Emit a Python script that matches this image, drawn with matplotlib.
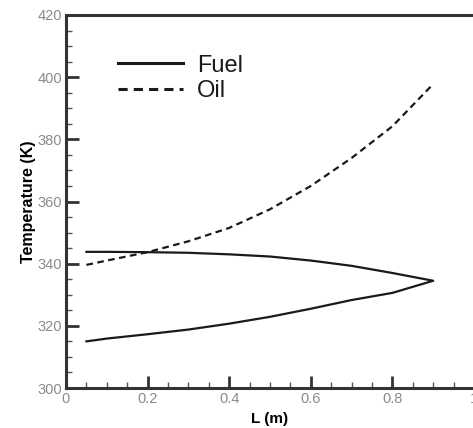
import matplotlib.pyplot as plt
from matplotlib.ticker import MultipleLocator
import numpy as np

plt.rcParams['font.family'] = ['Liberation Sans', 'DejaVu Sans']

# fuel runs out along the upper branch and back along the lower one
fuel_L = [0.05, 0.1, 0.2, 0.3, 0.4, 0.5, 0.6, 0.7, 0.8, 0.9,
          0.8, 0.7, 0.6, 0.5, 0.4, 0.3, 0.2, 0.1, 0.05]
fuel_T = [343.8, 343.8, 343.7, 343.5, 343.0, 342.3, 341.0, 339.3, 337.0, 334.5,
          330.6, 328.3, 325.5, 322.9, 320.7, 318.8, 317.3, 315.9, 315.0]

oil_L = [0.05, 0.1, 0.2, 0.3, 0.4, 0.5, 0.6, 0.7, 0.8, 0.9]
oil_T = [339.6, 341.0, 343.7, 347.2, 351.5, 357.5, 365.0, 374.0, 384.2, 397.8]

x_ticks = [0, 0.2, 0.4, 0.6, 0.8, 1.0]
x_tick_labels = ['0', '0.2', '0.4', '0.6', '0.8', '1']

fig = plt.figure(figsize=(4.73, 4.28), dpi=100)
ax = fig.add_axes([66 / 473, 40 / 428, 408 / 473, 373 / 428])

ax.plot(fuel_L, fuel_T, color='#1a1a1a', lw=1.6, label='Fuel')
ax.plot(oil_L, oil_T, color='#1a1a1a', lw=1.6, ls=(0, (3, 2)), label='Oil')

ax.set_xlim(0, 1.0)
ax.set_ylim(300, 420)
ax.set_xticks(x_ticks)
ax.set_xticklabels(x_tick_labels)
ax.xaxis.set_minor_locator(MultipleLocator(0.05))
ax.yaxis.set_major_locator(MultipleLocator(20))
ax.yaxis.set_minor_locator(MultipleLocator(5))

ax.tick_params(which='major', direction='in', length=9, width=2, color='#333333',
               labelsize=10.5, labelcolor='#8a8a8a', pad=3)
ax.tick_params(which='minor', direction='in', length=4.5, width=1, color='#555555')
ax.tick_params(top=False, right=False, which='both')

for side in ['left', 'bottom', 'top']:
    ax.spines[side].set_linewidth(2.2)
    ax.spines[side].set_color('#333333')
ax.spines['right'].set_linewidth(0.8)
ax.spines['right'].set_color('#bbbbbb')

ax.set_xlabel('L (m)', fontsize=11, fontweight='bold', labelpad=4)
ax.set_ylabel('Temperature (K)', fontsize=11.5, fontweight='bold', labelpad=1)

leg = ax.legend(loc='upper left', bbox_to_anchor=(0.127, 0.894), frameon=False,
                fontsize=17, handlelength=2.75, handletextpad=0.6, labelspacing=0.16,
                borderpad=0, borderaxespad=0, labelcolor='#1a1a1a')
for line in leg.get_lines():
    line.set_linewidth(2.2)

fig.savefig('out.png', dpi=100)
